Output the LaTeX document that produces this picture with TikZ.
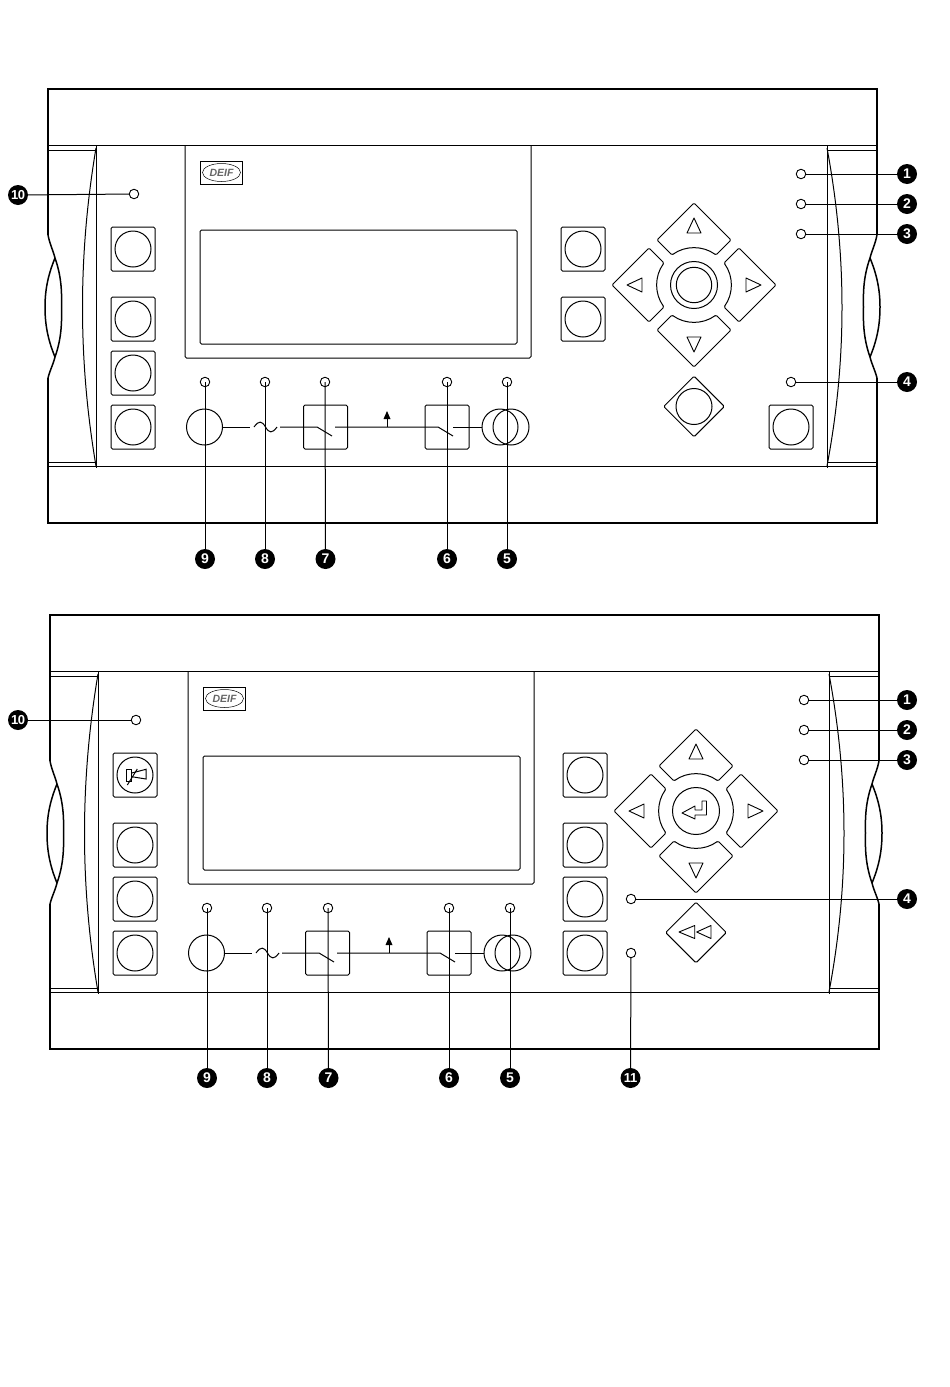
\documentclass[tikz,border=0pt]{standalone}
\usepackage{fontspec}
\usetikzlibrary{shapes.geometric}
\setmainfont{Liberation Sans}
\tikzstyle{frameline} = [line width=2.2pt]
\tikzstyle{thinline} = [line width=1pt]
\tikzstyle{led} = [circle, draw=black, line width=0.9pt, minimum size=9.5pt, inner sep=0pt]
\tikzstyle{numtag} = [circle, fill=black, minimum size=20pt, inner sep=0pt, text=white, font=\fontsize{14}{14}\selectfont]
\tikzstyle{numtagb} = [numtag, font=\fontsize{13}{13}\selectfont]
\tikzstyle{keybox} = [rectangle, draw=black, line width=1pt, rounded corners=1.5pt, minimum size=44pt, inner sep=0pt]
\tikzstyle{keyface} = [circle, draw=black, line width=1pt, minimum size=36pt, inner sep=0pt]
\tikzstyle{keydiamond} = [diamond, draw=black, line width=1pt, rounded corners=1.2pt, minimum size=61pt, inner sep=0pt, aspect=1]
\tikzstyle{arrowtip} = [draw=black, line width=0.9pt, line join=round]

% one of the four keys round the centre button
\newcommand{\arrowkey}[1]{
\begin{scope}[shift={(694,285)}, rotate=#1]
\draw [thinline, rounded corners=1.2pt] (0,-82) -- (-37,-45) -- (-22,-30) .. controls (-8.9,-39.6) and (8.9,-39.6) .. (22,-30) -- (37,-45) -- cycle;
\draw [arrowtip] (0,-67) -- (-7,-52) -- (7,-52) -- cycle;
\end{scope}
}

% #1 = y of the lower tags, #2 = x of the right tags, #3 = small shift of display and leds
\newcommand{\frontpanel}[3]{
% housing
\draw [frameline] (48,235) -- (48,89) -- (877,89) -- (877,235);
\draw [frameline] (48,378) -- (48,523) -- (877,523) -- (877,378);
\draw [line width=1.5pt] (877,235) .. controls (875,245) and (872,250) .. (870,258) .. controls (864,275) and (863,290) .. (863.5,307) .. controls (863,325) and (864,340) .. (870,357) .. controls (872,365) and (875,370) .. (877,378);
\draw [line width=1.5pt] (870,258) .. controls (877,275) and (880,290) .. (880,307) .. controls (880,325) and (877,340) .. (870,357);
\draw [line width=1.5pt] (48,235) .. controls (50,245) and (53,250) .. (55,258) .. controls (61,275) and (62,290) .. (61.5,307) .. controls (62,325) and (61,340) .. (55,357) .. controls (53,365) and (50,370) .. (48,378);
\draw [line width=1.5pt] (55,258) .. controls (48,275) and (45,290) .. (45,307) .. controls (45,325) and (48,340) .. (55,357);
\draw [thinline] (48,145) -- (877,145);
\draw [thinline] (48,466) -- (877,466);
\draw [thinline] (48,150) -- (96,150);
\draw [thinline] (48,462) -- (96,462);
\draw [thinline] (827,150) -- (877,150);
\draw [thinline] (827,462) -- (877,462);
\draw [thinline] (96,145) -- (96,468);
\draw [thinline] (827,145) -- (827,468);
\draw [thinline] (96,148) .. controls (78,255) and (78,360) .. (96,466);
\draw [thinline] (827,148) .. controls (847,255) and (847,360) .. (827,466);
% display
\begin{scope}[xshift=#3]
\draw [thinline, rounded corners=1.5pt] (185,145) -- (185,358) -- (531,358) -- (531,145);
\draw [thinline, rounded corners=1.5pt] (200,230) rectangle (517,344);
\draw [thinline] (200,161) rectangle (242.5,184);
\draw [line width=0.5pt] (221.5,172.5) ellipse (19 and 9);
\node (logo) at (221.5,172.5) [text=black!60, inner sep=0pt, font=\fontsize{10.5}{10.5}\selectfont\bfseries\itshape] {DEIF};
\end{scope}
% left column
\node (keyb) [keybox] at (133,319) {};
\node (keyc) [keybox, below of=keyb, node distance=54pt] {};
\node (keyd) [keybox, below of=keyc, node distance=54pt] {};
\node (faceb) [keyface] at (keyb) {};
\node (facec) [keyface] at (keyc) {};
\node (faced) [keyface] at (keyd) {};
% keypad
\arrowkey{0}
\arrowkey{90}
\arrowkey{180}
\arrowkey{270}
\draw [thinline] (694,285) circle (23.5);
% single line diagram
\node (gen) [keyface] at (204.5,427) {};
\node (brk1) [keybox] at (325.5,427) {};
\node (brk2) [keybox] at (447,427) {};
\node (bus1) [keyface] at (500,427) {};
\node (bus2) [keyface] at (511,427) {};
\draw [thinline] (gen) -- (250,427);
\draw [thinline] (254,427) .. controls (259,420) and (262,421) .. (265.5,427) .. controls (269,433) and (272,434) .. (277,427);
\draw [thinline] (280,427) -- (317,427) -- (332,436);
\draw [thinline] (335,427) -- (438,427) -- (453,436);
\draw [thinline] (453,427) -- (bus1);
\draw [thinline] (387,427) -- (387,417);
\fill (387,411) -- (390.5,419) -- (383.5,419) -- cycle;
% leds and their tags
\node (led1) [led, xshift=#3] at (801,174) {};
\node (led2) [led, xshift=#3] at (801,204) {};
\node (led3) [led, xshift=#3] at (801,234) {};
\node (led5) [led, xshift=#3] at (507,382) {};
\node (led6) [led] at (447,382) {};
\node (led7) [led, xshift=#3] at (325,382) {};
\node (led8) [led] at (265,382) {};
\node (led9) [led] at (205,382) {};
\node (led10) [led] at (134,194) {};
\node (num1) [numtag] at (#2,174) {\textbf{1}};
\node (num2) [numtag] at (#2,204) {\textbf{2}};
\node (num3) [numtag] at (#2,234) {\textbf{3}};
\node (num5) [numtag, xshift=#3] at (507,#1) {\textbf{5}};
\node (num6) [numtag] at (447,#1) {\textbf{6}};
\node (num7) [numtag, xshift=#3] at (325.5,#1) {\textbf{7}};
\node (num8) [numtag] at (265,#1) {\textbf{8}};
\node (num9) [numtag] at (205,#1) {\textbf{9}};
\draw [thinline] (led1) -- (num1);
\draw [thinline] (led2) -- (num2);
\draw [thinline] (led3) -- (num3);
\draw [thinline] (led5.center) -- (num5);
\draw [thinline] (led6.center) -- (num6);
\draw [thinline] (led7.center) -- (num7);
\draw [thinline] (led8.center) -- (num8);
\draw [thinline] (led9.center) -- (num9);
}

\begin{document}
\begin{tikzpicture}[x=1pt, y=-1pt]
\useasboundingbox (0,0) rectangle (950,1387);

\begin{scope}[name prefix=up-]
\frontpanel{559}{907}{0}
\node (keya) [keybox] at (133,249) {};
\node (facea) [keyface] at (keya) {};
\node (keye) [keybox] at (583,249) {};
\node (keyf) [keybox, below of=keye, node distance=70pt] {};
\node (facee) [keyface] at (keye) {};
\node (facef) [keyface] at (keyf) {};
\node (keyg) [keybox] at (791,427) {};
\node (faceg) [keyface] at (keyg) {};
\draw [thinline] (694,285) circle (17.7);
\node (enter) [keydiamond] at (694,406.5) {};
\node (faceh) [keyface] at (enter) {};
\node (led4) [led] at (791,382) {};
\node (num4) [numtag] at (907,382) {\textbf{4}};
\node (num10) [numtagb] at (18,195) {\textbf{1\kern-0.5pt0}};
\draw [thinline] (led4) -- (num4);
\draw [thinline] (led10) -- (num10);
\end{scope}

\begin{scope}[shift={(2,526)}, name prefix=low-]
\frontpanel{552}{905}{1}
% silence horn
\node (keya) [keybox] at (133,249) {};
\node (facea) [keyface] at (keya) {};
\draw [thinline] (124,243) rectangle (129.7,255.7);
\draw [thinline] (129.7,247) -- (144,243.3) -- (144,253) -- (129.7,250.7);
\draw [thinline] (135.3,243) -- (125.3,259);
% right column
\node (keye) [keybox] at (583,249) {};
\node (keyf) [keybox, below of=keye, node distance=70pt] {};
\node (keyg) [keybox, below of=keyf, node distance=54pt] {};
\node (keyh) [keybox, below of=keyg, node distance=54pt] {};
\node (facee) [keyface] at (keye) {};
\node (facef) [keyface] at (keyf) {};
\node (faceg) [keyface] at (keyg) {};
\node (faceh) [keyface] at (keyh) {};
% return arrow
\draw [arrowtip] (680,287) -- (693,280) -- (693,284) -- (700,284) -- (700,275) -- (704.5,275) -- (704.5,289) -- (693,289) -- (693,293) -- cycle;
\node (enter) [keydiamond] at (694,406.5) {};
\draw [arrowtip] (677,406) -- (692.7,399.5) -- (692.7,412.5) -- cycle;
\draw [arrowtip] (694.7,406) -- (709,399.5) -- (709,412.5) -- cycle;
\node (led4) [led] at (629,373) {};
\node (led11) [led] at (629,427) {};
\node (num4) [numtag] at (905,373) {\textbf{4}};
\node (num11) [numtagb] at (628.5,552) {\textbf{1\kern-1pt1}};
\node (num10) [numtagb] at (16,194) {\textbf{1\kern-0.5pt0}};
\draw [thinline] (led4) -- (num4);
\draw [thinline] (led11) -- (num11);
\draw [thinline] (led10) -- (num10);
\end{scope}
\end{tikzpicture}
\end{document}
